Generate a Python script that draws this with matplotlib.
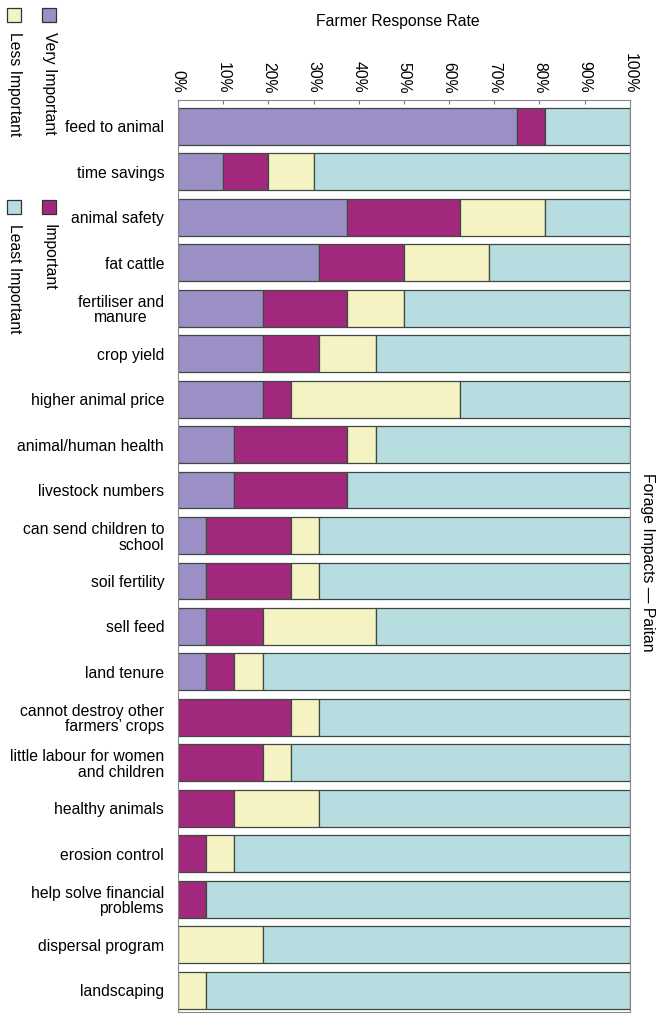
import matplotlib
matplotlib.use("Agg")
import matplotlib.pyplot as plt
from matplotlib.patches import Rectangle
import numpy as np

plt.rcParams['font.family'] = ['Liberation Sans', 'DejaVu Sans']
FS = 11.3

categories = ["feed to animal", "time savings", "animal safety", "fat cattle",
              "fertiliser and\nmanure", "crop yield", "higher animal price",
              "animal/human health", "livestock numbers",
              "can send children to\nschool", "soil fertility", "sell feed",
              "land tenure", "cannot destroy other\nfarmers\u2019 crops",
              "little labour for women\nand children", "healthy animals",
              "erosion control", "help solve financial\nproblems",
              "dispersal program", "landscaping"]

# percent of farmers per rating
very_important = [75, 10, 37.5, 31.25, 18.75, 18.75, 18.75, 12.5, 12.5, 6.25,
                  6.25, 6.25, 6.25, 0, 0, 0, 0, 0, 0, 0]
important = [6.25, 10, 25, 18.75, 18.75, 12.5, 6.25, 25, 25, 18.75,
             18.75, 12.5, 6.25, 25, 18.75, 12.5, 6.25, 6.25, 0, 0]
less_important = [0, 10, 18.75, 18.75, 12.5, 12.5, 37.5, 6.25, 0, 6.25,
                  6.25, 25, 6.25, 6.25, 6.25, 18.75, 6.25, 0, 18.75, 6.25]
least_important = [100 - a - b - c for a, b, c in
                   zip(very_important, important, less_important)]

series = [("Very Important", very_important, "#9c8fc6"),
          ("Important", important, "#a2287e"),
          ("Less Important", less_important, "#f5f3c3"),
          ("Least Important", least_important, "#b7dde1")]

fig = plt.figure(figsize=(6.63, 10.16), dpi=100)
ax = fig.add_axes([0.2685, 0.004, 0.6815, 0.8976])

y = np.arange(len(categories))
left = np.zeros(len(categories))
for name, vals, col in series:
    ax.barh(y, vals, left=left, height=0.81, color=col,
            edgecolor="#3c4a40", linewidth=0.9)
    left += np.array(vals)

ax.set_xlim(0, 100)
ax.set_ylim(19.48, -0.58)
ax.set_yticks(y)
ax.set_yticklabels(categories, fontsize=FS, linespacing=1.05)
ax.tick_params(axis="y", length=0, pad=10)
# this one label is centred in the original
ax.get_yticklabels()[4].set_multialignment("center")

ax.xaxis.tick_top()
ax.set_xticks(np.arange(0, 101, 10))
ax.set_xticklabels([f"{v}%" for v in range(0, 101, 10)], rotation=-90,
                   fontsize=FS)
ax.tick_params(axis="x", direction="in", length=3, color="#777", pad=5)
for s in ax.spines.values():
    s.set_color("#888")

fig.text(0.5995, 0.979, "Farmer Response Rate", ha="center", va="center",
         fontsize=FS)
fig.text(0.977, 0.447, "Forage Impacts \u2014 Paitan", ha="center",
         va="center", rotation=-90, fontsize=FS)

# rotated legend in the top-left corner
legend_items = [("Very Important", "#9c8fc6", 49, 15),
                ("Less Important", "#f5f3c3", 14, 15),
                ("Important", "#a2287e", 49, 207),
                ("Least Important", "#b7dde1", 14, 207)]
W, H = 663, 1016
for name, col, px, py in legend_items:
    fig.patches.append(Rectangle(((px - 7) / W, 1 - (py + 7) / H), 14 / W,
                                 14 / H, transform=fig.transFigure,
                                 facecolor=col, edgecolor="#333",
                                 linewidth=0.9))
    fig.text(px / W, 1 - (py + 17) / H, name, rotation=-90, ha="center",
             va="top", fontsize=FS)

fig.savefig("out.png", dpi=100)
